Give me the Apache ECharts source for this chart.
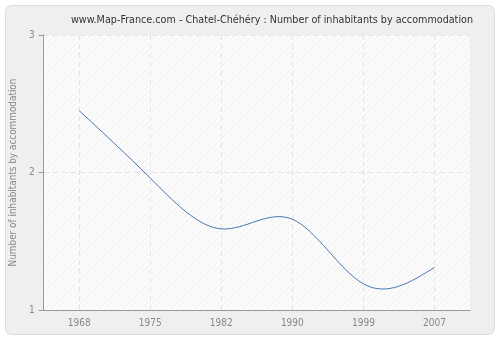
<!DOCTYPE html>
<html><head><meta charset="utf-8">
<script src="https://cdn.jsdelivr.net/npm/echarts@6/dist/echarts.min.js"></script>
<style>html,body{margin:0;padding:0;background:#fff}#c{width:500px;height:340px}</style>
</head><body><div id="c"></div>
<script>
const titleText = 'www.Map-France.com - Chatel-Chéhéry : Number of inhabitants by accommodation';
const yAxisName = 'Number of inhabitants by accommodation';
const years = ['1968', '1975', '1982', '1990', '1999', '2007'];
const values = [2.45, 1.96, 1.59, 1.66, 1.19, 1.31];
const yTicks = [1, 2, 3];
const FONT = '"DejaVu Sans Condensed", "DejaVu Sans", sans-serif';

function hatch() {
  const c = document.createElement('canvas');
  c.width = 6; c.height = 6;
  const g = c.getContext('2d');
  g.fillStyle = '#fbfbfb'; g.fillRect(0, 0, 6, 6);
  g.strokeStyle = '#f0f0f0'; g.lineWidth = 1;
  g.beginPath(); g.moveTo(0, 6); g.lineTo(6, 0); g.stroke();
  g.beginPath(); g.moveTo(-1, 1); g.lineTo(1, -1); g.stroke();
  g.beginPath(); g.moveTo(5, 7); g.lineTo(7, 5); g.stroke();
  return c;
}

// natural cubic spline tangents (in pixel space) for points with uniform x spacing
function splineTangents(pts) {
  const n = pts.length;
  const h = pts[1][0] - pts[0][0];
  const M = new Array(n).fill(0);
  if (n > 2) {
    const m = n - 2, a = [], b = [], c = [], d = [];
    for (let i = 1; i <= m; i++) {
      a.push(1); b.push(4); c.push(1);
      d.push(6 * (pts[i + 1][1] - 2 * pts[i][1] + pts[i - 1][1]) / (h * h));
    }
    for (let i = 1; i < m; i++) {
      const w = a[i] / b[i - 1];
      b[i] -= w * c[i - 1]; d[i] -= w * d[i - 1];
    }
    const x = new Array(m);
    x[m - 1] = d[m - 1] / b[m - 1];
    for (let i = m - 2; i >= 0; i--) x[i] = (d[i] - c[i] * x[i + 1]) / b[i];
    for (let i = 0; i < m; i++) M[i + 1] = x[i];
  }
  const t = [];
  for (let i = 0; i < n; i++) {
    if (i < n - 1) {
      t.push((pts[i + 1][1] - pts[i][1]) / h - h * (2 * M[i] + M[i + 1]) / 6);
    } else {
      t.push((pts[i][1] - pts[i - 1][1]) / h + h * (M[i - 1] + 2 * M[i]) / 6);
    }
  }
  return t;
}

const chart = echarts.init(document.getElementById('c'), null, {renderer: 'canvas'});
chart.setOption({
  animation: false,
  backgroundColor: '#ffffff',
  graphic: [{
    type: 'rect', z: -10, silent: true,
    shape: {x: 5.5, y: 5.5, width: 489, height: 329, r: 6},
    style: {fill: '#efefef', stroke: '#dcdcdc', lineWidth: 1}
  }],
  title: {
    text: titleText, left: 267, textAlign: 'center', top: 10,
    textStyle: {fontFamily: FONT, fontSize: 10.7, fontWeight: 'normal', color: '#333'}
  },
  grid: {
    left: 40, right: 30, top: 35, bottom: 30, show: true,
    backgroundColor: {image: hatch(), repeat: 'repeat'}, borderWidth: 0
  },
  xAxis: {
    type: 'category', data: years, boundaryGap: true,
    axisLine: {lineStyle: {color: '#999', width: 1}},
    axisTick: {alignWithLabel: true, length: 5, lineStyle: {color: '#999'}},
    axisLabel: {color: '#888', fontFamily: FONT, fontSize: 10, margin: 8},
    splitLine: {show: true, alignWithLabel: true, lineStyle: {color: '#e4e4e4', type: [5, 4]}}
  },
  yAxis: {
    type: 'value', min: yTicks[0], max: yTicks[yTicks.length - 1], interval: 1,
    name: yAxisName, nameLocation: 'middle', nameGap: 25, nameRotate: 90,
    nameTextStyle: {color: '#888', fontFamily: FONT, fontSize: 9.9},
    axisLine: {show: true, lineStyle: {color: '#999', width: 1}},
    axisTick: {show: true, length: 5, lineStyle: {color: '#999'}},
    axisLabel: {color: '#888', fontFamily: FONT, fontSize: 10, margin: 9},
    splitLine: {show: true, lineStyle: {color: '#e4e4e4', type: [5, 4]}}
  },
  series: [{
    type: 'custom',
    data: values.map((v, i) => [i, v]),
    encode: {x: 0, y: 1},
    renderItem: function (params, api) {
      const i = params.dataIndex;
      if (i >= values.length - 1) return null;
      const pts = values.map((v, k) => api.coord([k, v]));
      const tg = splineTangents(pts);
      const p0 = pts[i], p1 = pts[i + 1];
      const h = p1[0] - p0[0];
      return {
        type: 'bezierCurve',
        shape: {
          x1: p0[0], y1: p0[1], x2: p1[0], y2: p1[1],
          cpx1: p0[0] + h / 3, cpy1: p0[1] + tg[i] * h / 3,
          cpx2: p1[0] - h / 3, cpy2: p1[1] - tg[i + 1] * h / 3
        },
        style: {stroke: '#4a77b0', lineWidth: 1, fill: null}
      };
    }
  }]
});
</script></body></html>
